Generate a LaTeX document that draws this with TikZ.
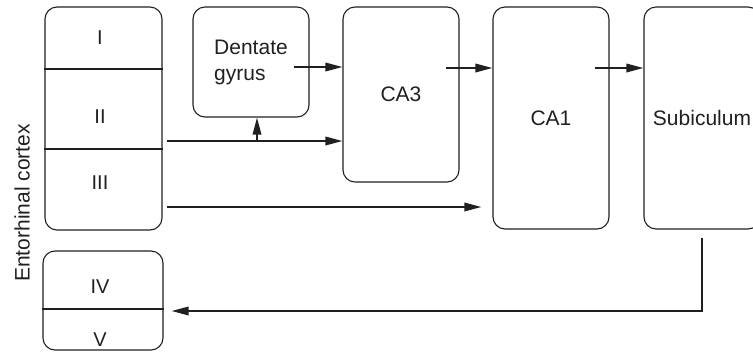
\documentclass[tikz,border=0pt]{standalone}
\usepackage{fontspec}
\setmainfont{Liberation Sans}
\usetikzlibrary{arrows.meta,calc}
\definecolor{ink}{HTML}{231F20}
\begin{document}
\begin{tikzpicture}[x=1pt,y=-1pt,
  box/.style={draw=ink, line width=1.1pt, rounded corners=12pt, inner sep=0pt, font=\fontsize{21}{26}\selectfont, text=ink},
  divider/.style={draw=ink, line width=1.1pt},
  num/.style={font=\fontsize{20}{24}\selectfont, text=ink, inner sep=0pt},
  arr/.style={draw=ink, line width=1.8pt, -{Triangle[length=17pt,width=8.5pt]}},
  plainline/.style={draw=ink, line width=1.8pt}]
\useasboundingbox (0,0) rectangle (753,360);
\clip (0,0) rectangle (753,360);
% boxes
\node[box, minimum width=117pt, minimum height=223pt] (ec) at (103.5,118.5) {};
\node[box, minimum width=120pt, minimum height=99pt] (ec2) at (103,300.5) {};
\node[box, minimum width=116pt, minimum height=110pt, align=left] (dg) at (251,62) {Dentate\\gyrus};
\node[box, minimum width=116pt, minimum height=175pt] (ca3) at (401,94.5) {CA3};
\node[box, minimum width=116pt, minimum height=222pt] (ca1) at (551,118) {CA1};
\node[box, minimum width=116pt, minimum height=222pt] (sub) at (702,118) {Subiculum};
% helper levels
\coordinate (y69) at (0,69);
\coordinate (y149) at (0,149);
\coordinate (y309) at (0,309);
\coordinate (y141) at (0,141);
\coordinate (y207) at (0,207);
\coordinate (y67) at (0,67);
\coordinate (y68) at (0,68);
\coordinate (y311) at (0,311);
% dividers
\draw[divider] (ec.west |- y69) -- (ec.east |- y69);
\draw[divider] (ec.west |- y149) -- (ec.east |- y149);
\draw[divider] (ec2.west |- y309) -- (ec2.east |- y309);
% layer labels
\node[num] (n1) at (100,38) {I};
\node[num] (n2) at (100,117) {II};
\node[num] (n3) at (100,183) {III};
\node[num] (n4) at (100,287) {IV};
\node[num] (n5) at (100,340) {V};
\node[rotate=90, font=\fontsize{21}{26}\selectfont, text=ink] (ectitle) at (22,203) {Entorhinal cortex};
% connectors
\draw[arr] ($(ec.east |- y141)+(4,0)$) -- (ca3.west |- y141);
\coordinate (br) at (257,141);
\draw[arr] (br) -- (br |- dg.south);
\draw[arr] ($(ec.east |- y207)+(4,0)$) -- ($(ca1.west |- y207)+(-11,0)$);
\draw[arr] ($(dg.east |- y67)+(-16,0)$) -- (ca3.west |- y67);
\draw[arr] ($(ca3.east |- y68)+(-14,0)$) -- (ca1.west |- y68);
\draw[arr] ($(ca1.east |- y68)+(-15,0)$) -- (sub.west |- y68);
\draw[arr] ($(sub.south)+(0,8)$) -- (sub.south |- y311) -- ($(ec2.east |- y311)+(8,0)$);
\end{tikzpicture}
\end{document}
